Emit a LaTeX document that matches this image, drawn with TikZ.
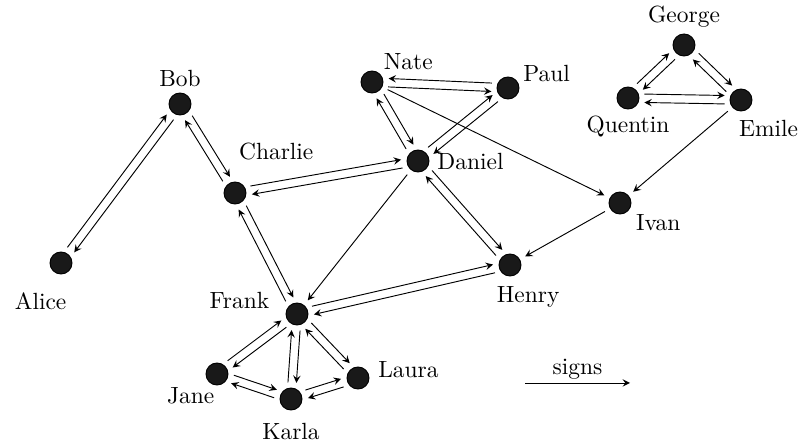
\documentclass[tikz,border=0pt]{standalone}
\usetikzlibrary{calc}
\tikzset{>=stealth}
\tikzset{person/.style={circle, draw, fill=black!90, inner sep=0pt, minimum size=9.4pt}}
\tikzset{tag/.style={anchor=center, label distance=#1}}
% two opposite arrows side by side; a negative offset swaps the sides
\newcommand{\twoway}[3][1.8pt]{
	\draw[->, shorten <=7pt, shorten >=7pt]($(#2)!#1!90:(#3)$)--($(#3)!#1!-90:(#2)$);
	\draw[->, shorten <=7pt, shorten >=7pt]($(#3)!#1!90:(#2)$)--($(#2)!#1!-90:(#3)$);
}

\begin{document}
\begin{tikzpicture}[x=0.015cm, y=-0.015cm]
    \useasboundingbox (0, 0) rectangle (803, 441);
    \node[person, label={[tag=13.6pt]242:Alice}] (alice) at (61, 263) {};
    \node[person, label={[tag=6pt]90:Bob}] (bob) at (180, 104) {};
    \node[person, label={[tag=20pt]45:Charlie}] (charlie) at (235, 193) {};
    \node[person, label={[tag=12.8pt]29:Nate}] (nate) at (372, 82) {};
    \node[person, label={[tag=12.6pt]20:Paul}] (paul) at (508, 88) {};
    \node[person, label={[tag=17.5pt]-1:Daniel}] (daniel) at (418, 161) {};
    \node[person, label={[tag=7.3pt]90:George}] (george) at (684, 45) {};
    \node[person, label={[tag=7.3pt]-90:Quentin}] (quentin) at (628, 98) {};
    \node[person, label={[tag=12pt]-46:Emile}] (emile) at (741, 100) {};
    \node[person, label={[tag=13.4pt]-27:Ivan}] (ivan) at (620, 203) {};
    \node[person, label={[tag=10.6pt]-60:Henry}] (henry) at (510, 265) {};
    \node[person, label={[tag=20.3pt]167:Frank}] (frank) at (297, 314) {};
    \node[person, label={[tag=9.6pt]219:Jane}] (jane) at (217, 374) {};
    \node[person, label={[tag=9pt]-90:Karla}] (karla) at (291, 399) {};
    \node[person, label={[tag=16.9pt]9:Laura}] (laura) at (358, 378) {};

    \twoway{alice}{bob}
    \twoway{bob}{charlie}
    \twoway{charlie}{daniel}
    \twoway{charlie}{frank}
    \twoway[-1.8pt]{nate}{paul}
    \twoway{nate}{daniel}
    \twoway{daniel}{paul}
    \twoway{daniel}{henry}
    \twoway{frank}{henry}
    \twoway{jane}{frank}
    \twoway{frank}{karla}
    \twoway{frank}{laura}
    \twoway{jane}{karla}
    \twoway{karla}{laura}
    \twoway{quentin}{george}
    \twoway{george}{emile}
    \twoway{quentin}{emile}

    \begin{scope}[->, shorten <=2.5pt, shorten >=2.5pt]
        \draw (nate)--(ivan);
        \draw (daniel)--(frank);
        \draw (emile)--(ivan);
        \draw (ivan)--(henry);
    \end{scope}

    \coordinate (s1) at (525, 383);
    \coordinate (s2) at (630, 383);
    \draw[->] (s1)--node[above, inner sep=1.5pt]{signs}(s2);
\end{tikzpicture}
\end{document}
